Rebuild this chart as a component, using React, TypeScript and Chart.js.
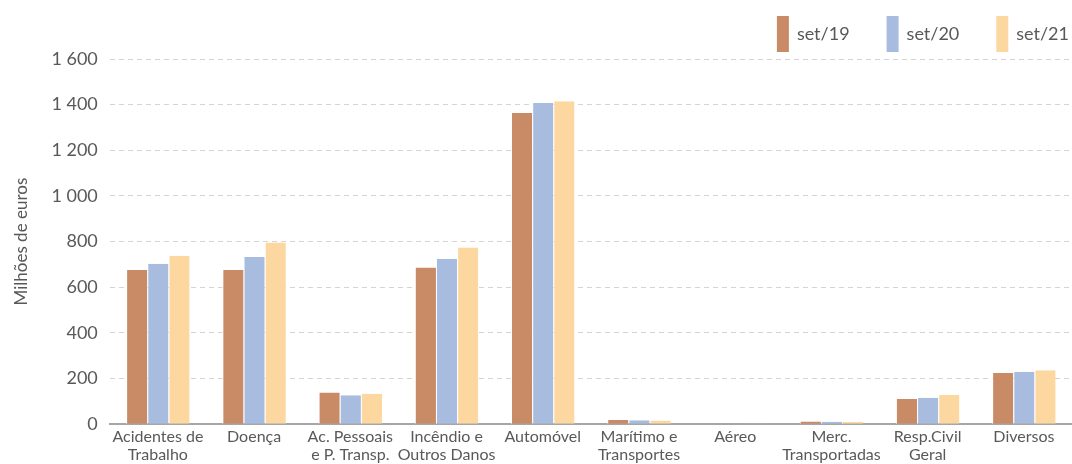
import React, { useEffect, useRef } from "react";
import { Chart, registerables } from "chart.js";

Chart.register(...registerables);

const categories: string[][] = [
  ["Acidentes de", "Trabalho"],
  ["Doença"],
  ["Ac. Pessoais", "e P. Transp."],
  ["Incêndio e", "Outros Danos"],
  ["Automóvel"],
  ["Marítimo e", "Transportes"],
  ["Aéreo"],
  ["Merc.", "Transportadas"],
  ["Resp.Civil", "Geral"],
  ["Diversos"],
];

const set19: number[] = [676, 676, 139, 686, 1363, 18, 2, 12, 110, 224];
const set20: number[] = [703, 733, 127, 725, 1407, 17, 3, 11, 116, 230];
const set21: number[] = [738, 796, 133, 774, 1415, 16, 3, 10, 129, 236];

const seriesLabels: string[] = ["set/19", "set/20", "set/21"];
const yTicks: number[] = [0, 200, 400, 600, 800, 1000, 1200, 1400, 1600];

const FONT = "Lato";
const TEXT = "#595959";

const legendPlugin = {
  id: "customLegend",
  afterDraw(chart: any) {
    const ctx = chart.ctx as CanvasRenderingContext2D;
    const ds = chart.data.datasets;
    ctx.save();
    ctx.font = `18px ${FONT}`;
    ctx.textBaseline = "middle";
    ctx.textAlign = "left";
    const boxW = 12, boxH = 36, gapText = 8, gapItem = 37;
    const right = 1069, top = 16;
    const widths = ds.map((d: any) => boxW + gapText + ctx.measureText(d.label).width);
    const total = widths.reduce((a: number, b: number) => a + b, 0) + gapItem * (ds.length - 1);
    let x = right - total;
    ds.forEach((d: any, i: number) => {
      ctx.fillStyle = d.backgroundColor;
      ctx.fillRect(x, top, boxW, boxH);
      ctx.fillStyle = TEXT;
      ctx.fillText(d.label, x + boxW + gapText, top + boxH / 2);
      x += widths[i] + gapItem;
    });
    ctx.restore();
  },
};

export default function App() {
  const ref = useRef<HTMLCanvasElement>(null);
  useEffect(() => {
    if (!ref.current) return;
    const bw = { left: 1, right: 0, top: 0, bottom: 0 } as any;
    const chart = new Chart(ref.current, {
      type: "bar",
      data: {
        labels: categories,
        datasets: [
          { label: seriesLabels[0], data: set19, backgroundColor: "#c98b66", borderColor: "#ffffff", borderWidth: bw },
          { label: seriesLabels[1], data: set20, backgroundColor: "#a8bce0", borderColor: "#ffffff", borderWidth: bw },
          { label: seriesLabels[2], data: set21, backgroundColor: "#fdd7a0", borderColor: "#ffffff", borderWidth: bw },
        ],
      },
      plugins: [legendPlugin],
      options: {
        animation: false,
        responsive: false,
        maintainAspectRatio: false,
        layout: { padding: { left: 11, right: -1, top: 59, bottom: -3 } },
        datasets: { bar: { barPercentage: 1, categoryPercentage: 0.66 } },
        plugins: {
          tooltip: { enabled: false },
          legend: { display: false },
        },
        scales: {
          x: {
            grid: { display: false, drawTicks: false },
            border: { display: true, color: "#a6a6a6", width: 2 },
            ticks: {
              font: { family: FONT, size: 16, lineHeight: 1.15 },
              color: TEXT,
              maxRotation: 0,
              autoSkip: false,
              padding: 3,
            },
          },
          y: {
            min: 0,
            max: 1600,
            afterBuildTicks: (axis: any) => {
              axis.ticks = yTicks.map((v) => ({ value: v }));
            },
            grid: {
              color: "#d4d4d4",
              lineWidth: 1,
              drawTicks: false,
            },
            border: { display: false, dash: [5, 4] },
            ticks: {
              font: { family: FONT, size: 18 },
              color: TEXT,
              padding: 12,
              callback: (v: any) => {
                const n = Number(v);
                return n >= 1000 ? `${Math.floor(n / 1000)} ${String(n % 1000).padStart(3, "0")}` : String(n);
              },
            },
            title: {
              display: true,
              text: "Milhões de euros",
              font: { family: FONT, size: 17 },
              color: TEXT,
              padding: { top: 0, bottom: 8 },
            },
          },
        },
      },
    });
    return () => chart.destroy();
  }, []);
  return (
    <div style={{ position: "fixed", left: 0, top: 0, width: 1072, height: 464, background: "#fff" }}>
      <canvas ref={ref} width={1072} height={464} style={{ width: 1072, height: 464 }} />
    </div>
  );
}
